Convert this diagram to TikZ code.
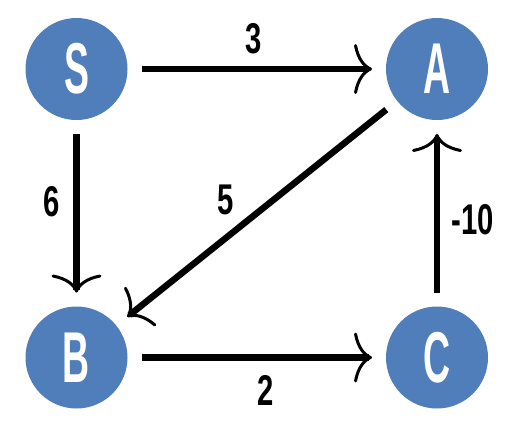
\documentclass[tikz,border=0pt]{standalone}
\usepackage{fontspec}
\usepackage{graphicx}
\setmainfont{Liberation Sans}
\usetikzlibrary{arrows.meta}
\definecolor{nodeblue}{HTML}{4F7EBB}
\begin{document}
\begin{tikzpicture}[x=1pt,y=-1pt,
  vert/.style={circle, fill=nodeblue, minimum size=102pt, inner sep=0pt, outer sep=14pt,
    text=white, font=\fontsize{72}{72}\selectfont\bfseries},
  edge/.style={line width=6.5pt, -{Computer Modern Rightarrow[length=18pt,width=50pt,line width=3pt]}},
  lbl/.style={font=\fontsize{43}{43}\selectfont\bfseries, inner sep=0pt}]
\useasboundingbox (0,0) rectangle (517,429);
\node[vert] (S) at (76.5,69) {\scalebox{0.52}[1]{S}};
\node[vert] (A) at (437,69) {\scalebox{0.52}[1]{A}};
\node[vert] (B) at (76.5,357.5) {\scalebox{0.52}[1]{B}};
\node[vert] (C) at (437,357.5) {\scalebox{0.52}[1]{C}};
\draw[edge] (S) -- node[lbl, yshift=30pt, xshift=-3pt] {\scalebox{0.68}[1]{3}} (A);
\draw[edge] (S) -- node[lbl, xshift=-25pt, yshift=12pt] {\scalebox{0.68}[1]{6}} (B);
\draw[edge] (A) -- node[lbl, xshift=-31pt, yshift=13pt] {\scalebox{0.68}[1]{5}} (B);
\draw[edge] (C) -- node[lbl, xshift=36pt, yshift=-6pt] {\scalebox{0.68}[1]{-10}} (A);
\draw[edge] (B) -- node[lbl, xshift=9pt, yshift=-33pt] {\scalebox{0.68}[1]{2}} (C);
\end{tikzpicture}
\end{document}
